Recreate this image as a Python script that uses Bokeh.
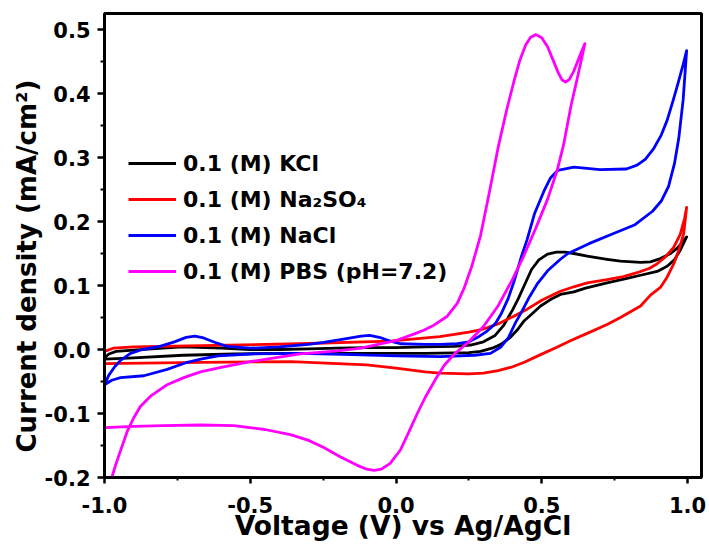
from bokeh.plotting import figure
from bokeh.models import FixedTicker, PrintfTickFormatter, Range1d, Legend, LegendItem, Title
from bokeh.embed import file_html
from bokeh.resources import INLINE

# ---------------- data ----------------
x_ticks = [-1.0, -0.5, 0.0, 0.5, 1.0]
x_tick_labels = ["-1.0", "-0.5", "0.0", "0.5", "1.0"]
x_minor = [-0.75, -0.25, 0.25, 0.75]
y_ticks = [-0.2, -0.1, 0.0, 0.1, 0.2, 0.3, 0.4, 0.5]
y_tick_labels = ["-0.2", "-0.1", "0.0", "0.1", "0.2", "0.3", "0.4", "0.5"]
y_minor = [-0.15, -0.05, 0.05, 0.15, 0.25, 0.35, 0.45]

x_title = "Voltage (V) vs Ag/AgCl"
y_title = "Current density (mA/cm\u00b2)"
series_names = ["0.1 (M) KCl", "0.1 (M) Na\u2082SO\u2084", "0.1 (M) NaCl", "0.1 (M) PBS (pH=7.2)"]

kcl_v = [-1.0, -0.985, -0.96, -0.9, -0.8, -0.73, -0.6, -0.5, -0.4, -0.3, -0.2, -0.1, 0.0, 0.1, 0.2,
         0.256, 0.30, 0.34, 0.37, 0.40, 0.42, 0.44, 0.465, 0.49, 0.52, 0.55, 0.58, 0.61, 0.656, 0.724,
         0.77, 0.839, 0.873, 0.907, 0.942, 0.964, 0.987, 0.997,
         0.976, 0.955, 0.93, 0.896, 0.839, 0.80, 0.724, 0.65, 0.61, 0.564, 0.53, 0.496, 0.465, 0.44,
         0.415, 0.39, 0.36, 0.33, 0.29, 0.25, 0.1, 0.0, -0.2, -0.4, -0.556, -0.73, -0.9, -1.0]
kcl_j = [-0.013, -0.007, -0.003, -0.001, 0.002, 0.004, 0.002, 0.0, 0.0, 0.001, 0.002, 0.003, 0.003, 0.004, 0.005,
         0.007, 0.012, 0.022, 0.038, 0.062, 0.080, 0.100, 0.125, 0.140, 0.149, 0.152, 0.152, 0.150, 0.146, 0.141,
         0.138, 0.136, 0.137, 0.142, 0.150, 0.158, 0.170, 0.176,
         0.156, 0.140, 0.130, 0.122, 0.116, 0.112, 0.104, 0.096, 0.090, 0.086, 0.078, 0.068, 0.055, 0.045,
         0.030, 0.018, 0.008, 0.002, -0.003, -0.005, -0.006, -0.006, -0.006, -0.006, -0.007, -0.009, -0.013, -0.015]

na2so4_v = [-1.0, -0.97, -0.9, -0.67, -0.33, -0.02, 0.15, 0.25, 0.30, 0.35, 0.404, 0.45, 0.50, 0.564, 0.61,
            0.656, 0.724, 0.78, 0.827, 0.87, 0.896, 0.925, 0.953, 0.975, 0.99, 0.997,
            0.987, 0.97, 0.953, 0.93, 0.907, 0.873, 0.839, 0.77, 0.724, 0.65, 0.60, 0.55, 0.496, 0.44,
            0.40, 0.35, 0.30, 0.25, 0.15, 0.10, 0.0, -0.1, -0.36, -0.67, -1.0]
na2so4_j = [-0.003, 0.002, 0.004, 0.006, 0.009, 0.013, 0.020, 0.027, 0.032, 0.040, 0.052, 0.063, 0.077, 0.091, 0.098,
            0.104, 0.109, 0.114, 0.120, 0.127, 0.134, 0.145, 0.160, 0.180, 0.205, 0.222,
            0.181, 0.155, 0.134, 0.113, 0.097, 0.085, 0.068, 0.050, 0.039, 0.024, 0.014, 0.003, -0.008, -0.020,
            -0.027, -0.033, -0.037, -0.038, -0.037, -0.035, -0.029, -0.024, -0.019, -0.020, -0.022]

nacl_v = [-1.0, -0.985, -0.965, -0.945, -0.911, -0.87, -0.81, -0.76, -0.72, -0.69, -0.66, -0.62, -0.58, -0.5,
          -0.4, -0.3, -0.248, -0.17, -0.12, -0.09, -0.05, -0.02, 0.015, 0.1, 0.153, 0.21, 0.25, 0.28, 0.31,
          0.34, 0.36, 0.385, 0.404, 0.43, 0.45, 0.475, 0.507, 0.53, 0.555, 0.61, 0.70, 0.79, 0.827, 0.855,
          0.884, 0.91, 0.93, 0.95, 0.967, 0.985, 0.997,
          0.985, 0.97, 0.955, 0.935, 0.91, 0.88, 0.82, 0.74, 0.66, 0.59, 0.564, 0.52, 0.484, 0.455, 0.43,
          0.41, 0.385, 0.36, 0.324, 0.27, 0.153, 0.0, -0.15, -0.33, -0.5, -0.61, -0.67, -0.716, -0.785,
          -0.865, -0.945, -0.975, -1.0]
nacl_j = [-0.055, -0.040, -0.027, -0.017, -0.006, 0.0, 0.005, 0.012, 0.019, 0.021, 0.018, 0.011, 0.005, 0.002,
          0.004, 0.008, 0.011, 0.017, 0.021, 0.022, 0.018, 0.013, 0.009, 0.008, 0.008, 0.009, 0.012, 0.019, 0.028,
          0.040, 0.055, 0.080, 0.105, 0.145, 0.172, 0.212, 0.247, 0.268, 0.280, 0.285, 0.281, 0.282, 0.288, 0.297,
          0.314, 0.335, 0.358, 0.388, 0.415, 0.445, 0.467,
          0.390, 0.330, 0.290, 0.255, 0.232, 0.216, 0.195, 0.180, 0.165, 0.150, 0.141, 0.123, 0.102, 0.080, 0.058,
          0.042, 0.018, 0.004, -0.006, -0.009, -0.011, -0.010, -0.008, -0.006, -0.007, -0.010, -0.015, -0.020, -0.031,
          -0.041, -0.044, -0.048, -0.055]

pbs_v = [-0.975, -0.96, -0.945, -0.922, -0.90, -0.877, -0.842, -0.785, -0.728, -0.671, -0.60, -0.50, -0.40,
         -0.328, -0.20, -0.12, -0.05, 0.0, 0.061, 0.095, 0.13, 0.176, 0.21, 0.233, 0.26, 0.29, 0.32, 0.35, 0.38,
         0.404, 0.425, 0.445, 0.462, 0.48, 0.50, 0.52, 0.54, 0.556, 0.57, 0.582, 0.595, 0.61, 0.63, 0.648,
         0.625, 0.60, 0.575, 0.553, 0.52, 0.48, 0.44, 0.40, 0.35, 0.30, 0.25, 0.20, 0.165, 0.136, 0.10, 0.073,
         0.04, 0.015, -0.02, -0.05, -0.075, -0.10, -0.133, -0.19, -0.248, -0.30, -0.362, -0.45, -0.556, -0.67,
         -0.8, -0.9, -1.0]
pbs_j = [-0.200, -0.178, -0.158, -0.128, -0.107, -0.089, -0.073, -0.055, -0.044, -0.035, -0.028, -0.019, -0.012,
         -0.007, -0.002, 0.002, 0.009, 0.014, 0.024, 0.030, 0.038, 0.052, 0.072, 0.095, 0.130, 0.178, 0.245, 0.315,
         0.375, 0.418, 0.452, 0.476, 0.488, 0.492, 0.487, 0.473, 0.451, 0.433, 0.421, 0.418, 0.422, 0.435, 0.458,
         0.478,
         0.430, 0.380, 0.320, 0.280, 0.235, 0.190, 0.148, 0.110, 0.068, 0.036, 0.012, -0.007, -0.025, -0.046,
         -0.075, -0.100, -0.133, -0.157, -0.178, -0.187, -0.189, -0.187, -0.181, -0.168, -0.153, -0.142, -0.133,
         -0.125, -0.119, -0.118, -0.119, -0.120, -0.122]

colors = ["#000000", "#ff0000", "#0000ff", "#ff00ff"]

# ---------------- figure ----------------
FONT = "DejaVu Sans"

p = figure(width=709, height=546, output_backend="svg", toolbar_location=None,
           x_range=Range1d(-1.0, 1.048), y_range=Range1d(-0.2, 0.525),
           min_border_left=104, min_border_right=8, min_border_top=13, min_border_bottom=69,
           background_fill_color="white", border_fill_color="white")

p.grid.visible = False
p.outline_line_color = "black"
p.outline_line_width = 3
p.outline_line_alpha = 1.0

renderers = []
for vx, jy, c in zip([kcl_v, na2so4_v, nacl_v, pbs_v], [kcl_j, na2so4_j, nacl_j, pbs_j], colors):
    r = p.line(vx, jy, line_color=c, line_width=2.8, line_join="round")
    renderers.append(r)

legend = Legend(items=[LegendItem(label=n, renderers=[r]) for n, r in zip(series_names, renderers)],
                location=(24, 191), padding=0, margin=0, spacing=6,
                glyph_width=48, glyph_height=30, label_height=30, label_standoff=7,
                label_text_font=FONT, label_text_font_style="bold", label_text_font_size="22px",
                label_text_color="black",
                background_fill_alpha=0, border_line_alpha=0)
p.add_layout(legend)

xa = p.xaxis[0]
xa.ticker = FixedTicker(ticks=x_ticks, minor_ticks=x_minor)
xa.formatter = PrintfTickFormatter(format="%.1f")
xa.major_label_overrides = {t: s for t, s in zip(x_ticks, x_tick_labels)}
xa.axis_label = x_title
xa.major_tick_out = 6
xa.minor_tick_out = 3
xa.major_label_standoff = 13
xa.axis_label_standoff = -6

ya = p.yaxis[0]
ya.ticker = FixedTicker(ticks=y_ticks, minor_ticks=y_minor)
ya.formatter = PrintfTickFormatter(format="%.1f")
ya.major_label_overrides = {t: s for t, s in zip(y_ticks, y_tick_labels)}
ya.major_tick_out = 7
ya.minor_tick_out = 4
ya.major_label_standoff = 7

for ax in (xa, ya):
    ax.axis_line_width = 3
    ax.axis_line_color = "black"
    ax.major_tick_line_width = 2.5
    ax.minor_tick_line_width = 2
    ax.major_tick_line_color = "black"
    ax.minor_tick_line_color = "black"
    ax.major_tick_in = 0
    ax.minor_tick_in = 0
    ax.major_label_text_font = FONT
    ax.major_label_text_font_style = "bold"
    ax.major_label_text_font_size = "21px"
    ax.major_label_text_color = "black"
    ax.axis_label_text_font = FONT
    ax.axis_label_text_font_style = "bold"
    ax.axis_label_text_font_size = "26.5px"
    ax.axis_label_text_color = "black"

# y-axis title in the left panel; the reference starts it near the lower end of the frame
y_title_obj = Title(text=y_title, align="left", offset=25, standoff=0,
                    text_font=FONT, text_font_style="bold", text_font_size="26px", text_color="black")
p.add_layout(y_title_obj, "left")

open("out.html", "w").write(file_html(p, INLINE))
